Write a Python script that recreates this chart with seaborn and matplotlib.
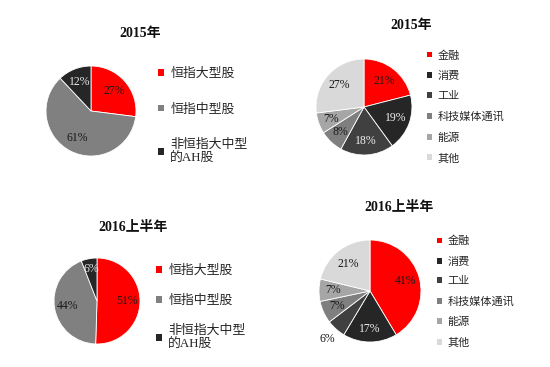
import matplotlib
matplotlib.use("Agg")
import numpy as np
import matplotlib.pyplot as plt
from matplotlib.patches import Patch
import seaborn as sns

sns.set_theme(style="white")
plt.rcParams['font.family'] = ['Liberation Serif', 'Noto Sans CJK SC', 'DejaVu Sans']

# ---- data ----
size_labels = ["恒指大型股", "恒指中型股", "非恒指大中型\n的AH股"]
size_2015 = [27, 61, 12]
size_2016h1 = [51, 44, 6]

sector_labels = ["金融", "消费", "工业", "科技媒体通讯", "能源", "其他"]
sector_2015 = [21, 19, 18, 8, 7, 27]
sector_2016h1 = [41, 17, 6, 7, 7, 21]

title_2015 = "2015年"
title_2016 = "2016上半年"

# ---- styles ----
size_colors = ["#ff0000", "#808080", "#262626"]
size_text = ["#1a1a1a", "#1a1a1a", "#e8e8e8"]
sector_colors = ["#ff0000", "#262626", "#404040", "#7f7f7f", "#a6a6a6", "#d9d9d9"]
sector_text = ["#1a1a1a", "#f0f0f0", "#f0f0f0", "#1a1a1a", "#1a1a1a", "#1a1a1a"]

W, H = 550, 367
fig = plt.figure(figsize=(W / 100, H / 100), dpi=100)
fig.patch.set_facecolor("white")


def fx(x):
    return x / W


def fy(y):
    return 1 - y / H


def draw_pie(cx, cy, r, values, colors, tcolors, pctdist, title, tx, ty,
             labels, lx, ly, lfs, lspacing):
    ax = fig.add_axes([fx(cx - r), fy(cy + r), 2 * r / W, 2 * r / H])
    ax.pie(values, colors=colors, startangle=90, counterclock=False,
           wedgeprops=dict(edgecolor="white", linewidth=0.6))
    total = sum(values)
    ang = 90.0
    for i, v in enumerate(values):
        mid = ang - 360 * v / total / 2
        ang -= 360 * v / total
        d = pctdist[i]
        x = d * np.cos(np.deg2rad(mid))
        y = d * np.sin(np.deg2rad(mid))
        col = tcolors[i] if d <= 1 else "#1a1a1a"
        ax.text(x, y, f"{v}%", ha="center", va="center", fontsize=8.5,
                color=col, clip_on=False)
    ax.set_xlim(-1, 1)
    ax.set_ylim(-1, 1)
    ax.set_aspect("equal")
    ax.axis("off")
    fig.text(fx(tx), fy(ty), title, ha="center", va="center", fontsize=10,
             fontweight="bold", color="#111111")
    handles = [Patch(facecolor=c, edgecolor="none") for c in colors]
    fig.legend(handles, labels, loc="upper left",
               bbox_to_anchor=(fx(lx), fy(ly)), frameon=False,
               fontsize=lfs, borderpad=0, borderaxespad=0,
               handlelength=0.45, handleheight=0.45, handletextpad=0.5,
               labelspacing=lspacing, labelcolor="#262626")


draw_pie(91, 111, 45, size_2015, size_colors, size_text, [0.68, 0.68, 0.7],
         title_2015, 140, 33, size_labels, 158, 68, 9.3, 1.8)
draw_pie(364, 107, 48, sector_2015, sector_colors, sector_text,
         [0.68, 0.7, 0.7, 0.72, 0.72, 0.68],
         title_2015, 411, 25, sector_labels, 427, 50, 8, 0.95)
draw_pie(97, 301, 43, size_2016h1, size_colors, size_text, [0.7, 0.7, 0.75],
         title_2016, 133, 228, size_labels, 156, 265, 9.3, 1.35)
draw_pie(370, 291, 51, sector_2016h1, sector_colors, sector_text,
         [0.72, 0.75, 1.25, 0.72, 0.72, 0.68],
         title_2016, 399, 207, sector_labels, 437, 236, 8, 0.92)

fig.savefig("out.png", dpi=100, facecolor="white")
